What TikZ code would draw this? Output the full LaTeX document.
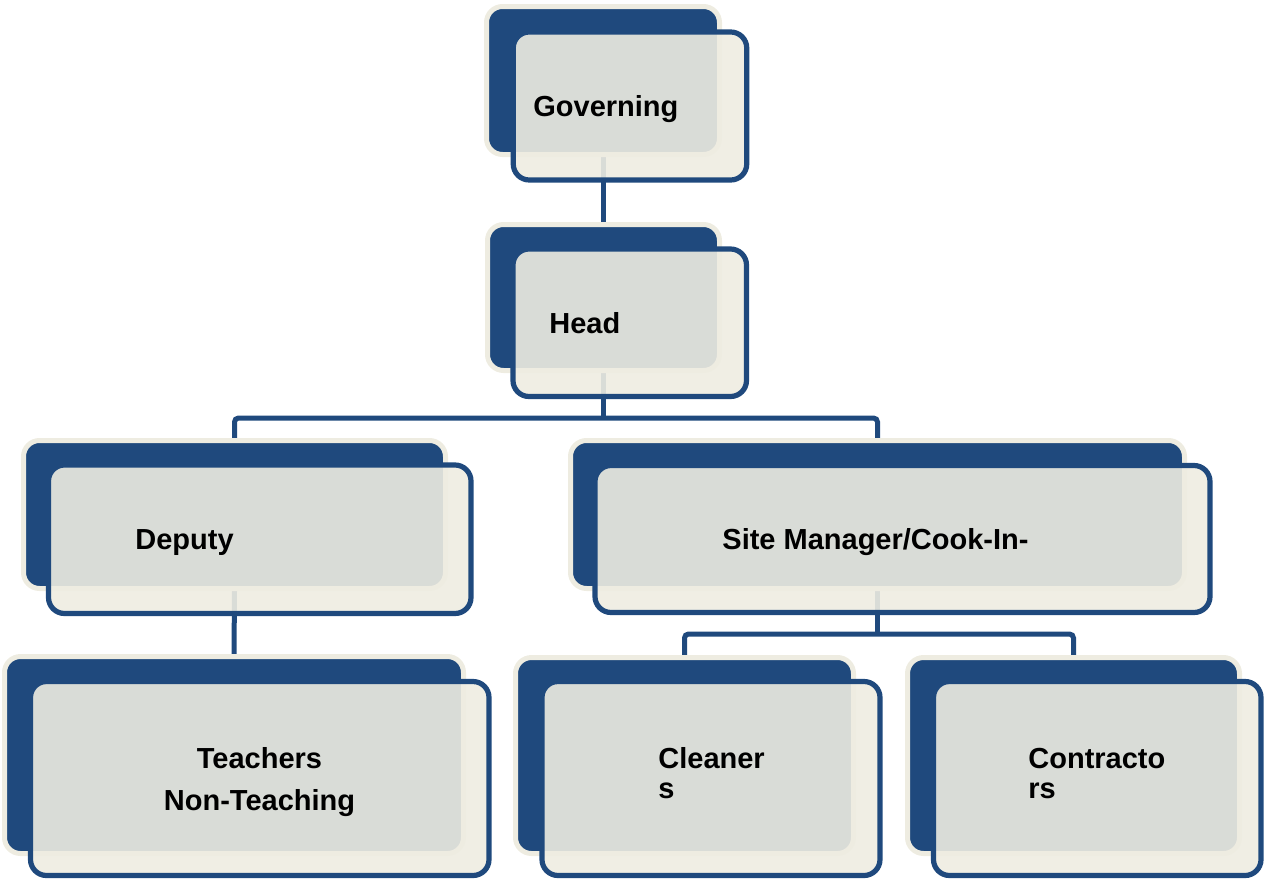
\documentclass[tikz,border=0pt]{standalone}
\usepackage{fontspec}
\setmainfont{Liberation Sans}
\usepackage{tikz}
\usetikzlibrary{backgrounds}
\definecolor{orgblue}{HTML}{1F497D}
\definecolor{orgcream}{HTML}{EEECE1}

\begin{document}
\begin{tikzpicture}[x=0.5pt,y=-0.5pt,
		backbox/.style={draw=orgcream, line width=2.5pt, fill=orgblue, rounded corners=8pt},
		frontbox/.style={draw=orgblue, line width=2.6pt, fill=orgcream, fill opacity=0.9, rounded corners=8pt},
		boxsize/.style 2 args={minimum width=#1pt, minimum height=#2pt},
		conn/.style={draw=orgblue, line width=2.5pt},
		lbl/.style={font=\fontsize{14.5}{15}\selectfont\bfseries, anchor=base west}]
		\tikzstyle{every node}+=[inner sep=0pt]
		\useasboundingbox (0,0) rectangle (1264,879);
		\node [backbox, boxsize={116.5}{74}] (gov-b) at (603,80.5) {};
		\node [frontbox, boxsize={116.75}{74}] (gov) at (630,106) {};
		\node [backbox, boxsize={116}{73}] (head-b) at (603.5,297.5) {};
		\node [frontbox, boxsize={116.75}{73.75}] (head) at (629.75,322.75) {};
		\node [backbox, boxsize={211}{74}] (dep-b) at (234.5,514.5) {};
		\node [frontbox, boxsize={211.25}{74.25}] (dep) at (259.75,539.25) {};
		\node [backbox, boxsize={307}{74}] (site-b) at (877.5,514.5) {};
		\node [frontbox, boxsize={307.5}{73.5}] (site) at (902.5,539) {};
		\node [backbox, boxsize={229.5}{98.5}] (teach-b) at (234,755) {};
		\node [frontbox, boxsize={229.25}{97}] (teach) at (259.75,778.5) {};
		\node [backbox, boxsize={169}{98}] (clean-b) at (684.5,755.5) {};
		\node [frontbox, boxsize={169}{97}] (clean) at (711,778.5) {};
		\node [backbox, boxsize={166}{98}] (contr-b) at (1073.5,755.5) {};
		\node [frontbox, boxsize={163.75}{97}] (contr) at (1097.25,778.5) {};
		\node [lbl] (gov-t) at (533,116) {Governing};
		\node [lbl] (head-t) at (549,333) {Head};
		\node [lbl] (dep-t) at (135,549) {Deputy};
		\node [lbl] (site-t) at (722,549) {Site Manager/Cook-In-};
		\node [lbl, font=\fontsize{14.5}{21}\selectfont\bfseries, align=center, anchor=base] (teach-t) at (259.5,810) {Teachers\\Non-Teaching};
		\node [lbl, align=left] (clean-t) at (658,798) {Cleaner\\s};
		\node [lbl, align=left] (contr-t) at (1028,798) {Contracto\\rs};
		\coordinate (top-bar) at (603.5,418);
		\coordinate (low-bar) at (877.5,634);
		\begin{scope}[on background layer]
			\draw [conn] (gov-b.south) -- (gov-b.south |- head-b.north);
			\draw [conn] (head-b.south) -- (top-bar);
			\draw [conn, rounded corners=2pt] (dep-b.north) |- (top-bar) -| (site-b.north);
			\draw [conn] (dep-b.south) -- (teach-b.north);
			\draw [conn] (site-b.south) -- (low-bar);
			\draw [conn, rounded corners=2pt] (clean-b.north) |- (low-bar) -| (contr-b.north);
		\end{scope}
	\end{tikzpicture}
\end{document}
